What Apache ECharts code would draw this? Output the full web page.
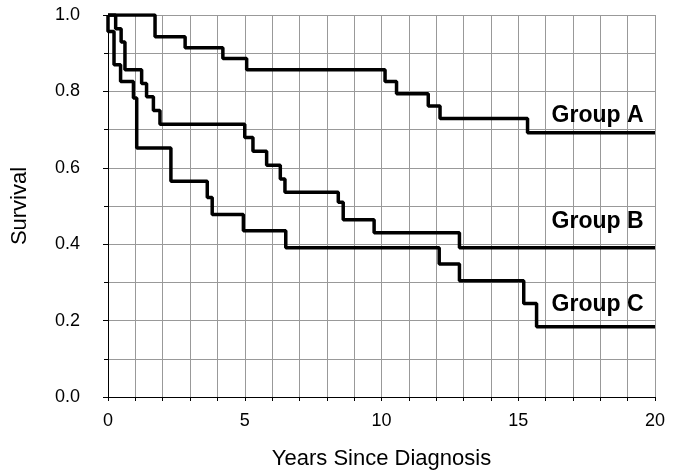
<!DOCTYPE html>
<html>
<head>
<meta charset="utf-8">
<script src="https://cdn.jsdelivr.net/npm/echarts@6/dist/echarts.min.js"></script>
<style>html,body{margin:0;padding:0;background:#fff;overflow:hidden;width:681px;height:475px}#c{width:681px;height:475px}</style>
</head>
<body>
<div id="c"></div>
<script>
// Data (years since diagnosis, survival)
var groupA_t = [0, 1.72, 2.82, 4.2, 5.07, 10.13, 10.55, 11.71, 12.14, 15.34, 20];
var groupA_s = [1, 0.943, 0.914, 0.886, 0.857, 0.826, 0.794, 0.762, 0.729, 0.692, 0.692];

var groupB_t = [0, 0.28, 0.48, 0.62, 1.23, 1.41, 1.66, 1.9, 5.0, 5.3, 5.8, 6.3, 6.47, 8.42, 8.6, 9.73, 12.85, 20];
var groupB_s = [1, 0.964, 0.929, 0.857, 0.821, 0.786, 0.75, 0.714, 0.679, 0.643, 0.607, 0.571, 0.536, 0.51, 0.464, 0.43, 0.391, 0.391];

var groupC_t = [0, 0, 0.22, 0.46, 0.93, 1.05, 2.3, 3.63, 3.81, 4.95, 6.5, 12.11, 12.85, 15.2, 15.67, 20];
var groupC_s = [1, 0.957, 0.870, 0.826, 0.783, 0.652, 0.565, 0.522, 0.478, 0.435, 0.391, 0.348, 0.304, 0.245, 0.184, 0.184];

var groupNames = ['Group A', 'Group B', 'Group C'];
var labelCoords = [[17.9, 0.737], [17.9, 0.458], [17.9, 0.242]];

var xTitle = 'Years Since Diagnosis';
var yTitle = 'Survival';

function pairs(t, s) { return t.map(function (v, i) { return [v, s[i]]; }); }

var FONT = '"Liberation Sans", Arial, sans-serif';
var gridColor = '#999999';

var seriesData = [pairs(groupA_t, groupA_s), pairs(groupB_t, groupB_s), pairs(groupC_t, groupC_s)];

var chart = echarts.init(document.getElementById('c'), null, { renderer: 'canvas', width: 681, height: 475 });
chart.setOption({
  animation: false,
  backgroundColor: '#fff',
  grid: { left: 108, right: 26, top: 15, bottom: 76, containLabel: false },
  xAxis: {
    type: 'value', min: 0, max: 20, interval: 5,
    name: xTitle, nameLocation: 'middle', nameGap: 51,
    nameTextStyle: { fontFamily: FONT, fontSize: 22, color: '#000' },
    axisLine: { show: true, onZero: false, lineStyle: { color: '#000', width: 1 } },
    axisTick: { show: true, length: 4, lineStyle: { color: '#000' } },
    minorTick: { show: true, splitNumber: 5, length: 4, lineStyle: { color: '#000' } },
    axisLabel: { fontFamily: FONT, fontSize: 18, color: '#000', margin: 15 },
    splitLine: { show: true, lineStyle: { color: gridColor, width: 1 } },
    minorSplitLine: { show: true, lineStyle: { color: gridColor, width: 1 } }
  },
  yAxis: {
    type: 'value', min: 0, max: 1, interval: 0.2, offset: 13,
    name: yTitle, nameLocation: 'middle', nameGap: 64,
    nameTextStyle: { fontFamily: FONT, fontSize: 22, color: '#000' },
    axisLine: { show: true, lineStyle: { color: '#000', width: 1 } },
    axisTick: { show: true, length: 5, lineStyle: { color: '#000' } },
    minorTick: { show: true, splitNumber: 2, length: 4, lineStyle: { color: '#000' } },
    axisLabel: { fontFamily: FONT, fontSize: 18, color: '#000', margin: 15,
      formatter: function (v) { return v.toFixed(1); } },
    splitLine: { show: true, lineStyle: { color: gridColor, width: 1 } },
    minorSplitLine: { show: true, lineStyle: { color: gridColor, width: 1 } }
  },
  series: seriesData.map(function (d, i) {
    return {
      type: 'line', name: groupNames[i], step: 'end', data: d,
      showSymbol: false, symbol: 'none',
      lineStyle: { color: '#000', width: 3.5 },
      markPoint: {
        symbol: 'circle', symbolSize: 0,
        label: { show: true, position: 'inside', formatter: '{b}',
          fontFamily: FONT, fontSize: 23, fontWeight: 'bold', color: '#000' },
        data: [{ name: groupNames[i], coord: labelCoords[i] }]
      }
    };
  })
});
</script>
</body>
</html>
